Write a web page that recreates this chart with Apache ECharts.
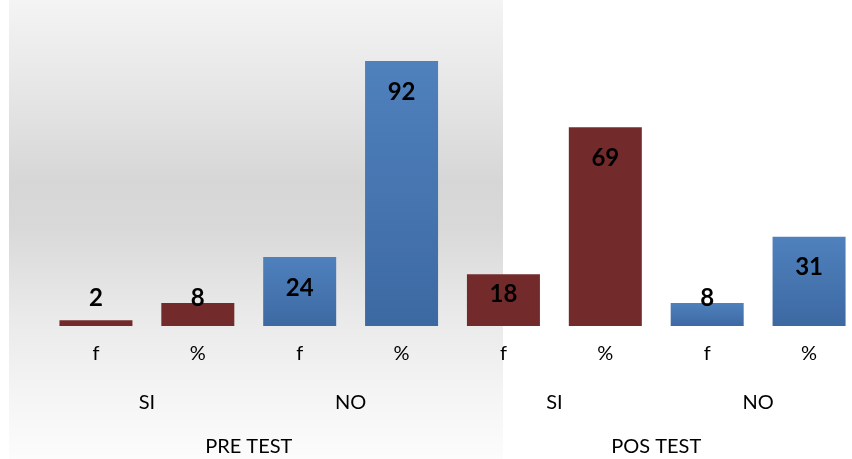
<!DOCTYPE html>
<html>
<head>
<meta charset="utf-8">
<script src="https://cdn.jsdelivr.net/npm/echarts@6/dist/echarts.min.js"></script>
<style>
  html, body { margin: 0; padding: 0; background: #ffffff; }
  #chart { width: 852px; height: 459px; }
</style>
</head>
<body>
<div id="chart"></div>
<script>
// Measure labels (f = frequency, % = percentage) for each answer / test block
const measures = ['f', '%', 'f', '%', 'f', '%', 'f', '%'];
const answers = ['SI', 'NO', 'SI', 'NO'];
const tests = ['PRE TEST', 'POS TEST'];
// Values per bar, in the same order as the measures
const values = [2, 8, 24, 92, 18, 69, 8, 31];
// Which answer each bar belongs to
const answerOfBar = ['SI', 'SI', 'NO', 'NO', 'SI', 'SI', 'NO', 'NO'];

const RED = '#722b2a';
const BLUE = new echarts.graphic.LinearGradient(0, 0, 0, 1, [
  { offset: 0, color: '#4f81bd' },
  { offset: 1, color: '#3d69a2' }
]);

// Tall bars carry the value inside near the top, short ones just above the base
function labelFor(v) {
  if (v >= 20) return { position: 'insideTop', distance: 19 };
  if (v >= 10) return { position: 'insideTop', distance: 8 };
  return { position: 'insideBottom', distance: 16 };
}

const barData = values.map((v, i) => ({
  value: v,
  itemStyle: { color: answerOfBar[i] === 'SI' ? RED : BLUE },
  label: labelFor(v)
}));

const font = 'Lato, "Open Sans", sans-serif';
const axisText = { color: '#000', fontSize: 20, fontFamily: font, margin: 18 };

const chart = echarts.init(document.getElementById('chart'), null, { renderer: 'canvas' });
chart.setOption({
  animation: false,
  backgroundColor: '#ffffff',
  graphic: [{
    type: 'rect',
    z: -10,
    silent: true,
    shape: { x: 9, y: 0, width: 494, height: 459 },
    style: {
      fill: new echarts.graphic.LinearGradient(0, 0, 0, 1, [
        { offset: 0, color: '#f4f4f4' },
        { offset: 0.2, color: '#e6e6e6' },
        { offset: 0.4, color: '#d6d6d6' },
        { offset: 0.5, color: '#d9d9d9' },
        { offset: 0.68, color: '#e9e9e9' },
        { offset: 0.85, color: '#f4f4f4' },
        { offset: 1, color: '#fcfcfc' }
      ])
    }
  }],
  // the plot runs slightly past the right edge of the canvas
  grid: {
    left: 45, top: 38, width: 815, height: 288,
    containLabel: false,
    outerBoundsMode: 'none'
  },
  xAxis: [
    {
      type: 'category',
      data: measures,
      axisLine: { show: false },
      axisTick: { show: false },
      axisLabel: axisText
    },
    {
      type: 'category',
      data: answers,
      position: 'bottom',
      offset: 49,
      axisLine: { show: false },
      axisTick: { show: false },
      axisLabel: axisText
    },
    {
      type: 'category',
      data: tests,
      position: 'bottom',
      offset: 93,
      axisLine: { show: false },
      axisTick: { show: false },
      axisLabel: axisText
    }
  ],
  yAxis: { type: 'value', min: 0, max: 100, show: false, splitLine: { show: false } },
  series: [{
    type: 'bar',
    xAxisIndex: 0,
    data: barData,
    barWidth: 73,
    label: {
      show: true,
      color: '#000',
      fontSize: 24,
      fontWeight: 'bold',
      fontFamily: font
    }
  }]
});
</script>
</body>
</html>
